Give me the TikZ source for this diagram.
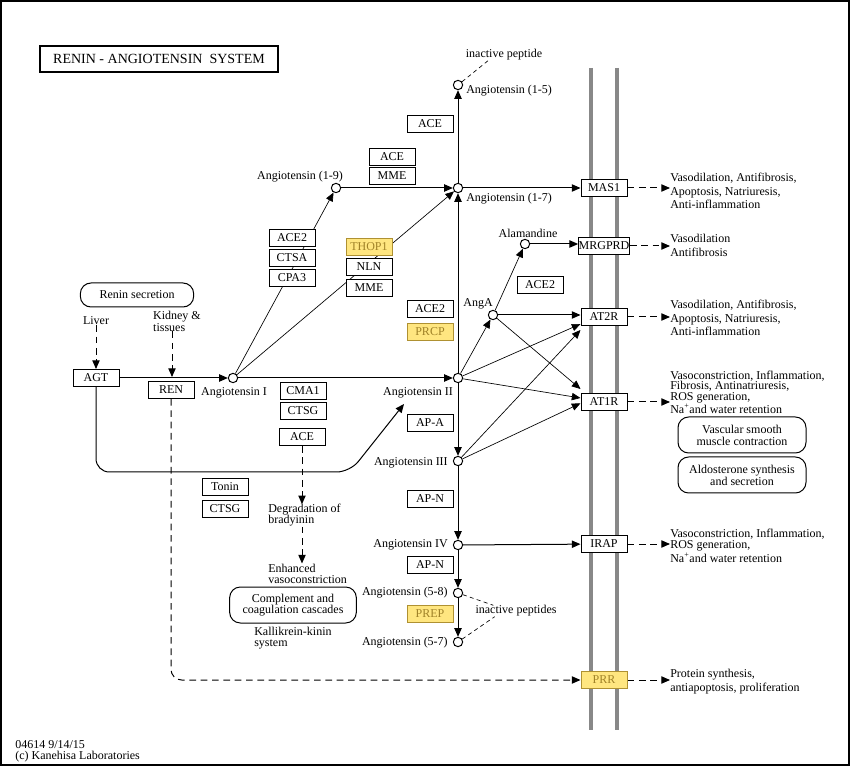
\documentclass[tikz,border=0pt]{standalone}
\usepackage{fontspec}
\setmainfont{Liberation Serif}
\usetikzlibrary{arrows.meta}

\definecolor{membrane}{RGB}{136,136,136}
\definecolor{hlfill}{RGB}{255,230,128}
\definecolor{hltext}{RGB}{160,130,40}
\definecolor{hldraw}{RGB}{175,145,50}

\tikzset{
  gene/.style={draw, fill=white, line width=0.75pt, minimum width=34.5pt, minimum height=12.75pt, inner sep=0pt, font=\fontsize{9}{10}\selectfont},
  genehl/.style={gene, fill=hlfill, draw=hldraw, text=hltext},
  cpd/.style={circle, draw, fill=white, line width=0.75pt, minimum size=7pt, inner sep=0pt},
  lbl/.style={inner sep=0pt, font=\fontsize{9}{10}\selectfont},
  effect/.style={lbl, anchor=west, align=left},
  pill/.style={draw, rounded corners=8pt, line width=0.75pt, inner sep=0pt, align=center, font=\fontsize{9}{9}\selectfont},
  rxn/.style={line width=0.75pt, -{Triangle[length=6.5pt,width=5.5pt]}},
  thinrxn/.style={rxn, line width=0.5pt},
  rel/.style={rxn, dash pattern=on 5pt off 3.5pt},
  note/.style={line width=0.5pt, dash pattern=on 3pt off 2.5pt}
}

\begin{document}
\begin{tikzpicture}[x=0.75pt,y=-0.75pt]
  \useasboundingbox (0,0) rectangle (850,766);
  \draw[line width=1.2pt] (1,1) rectangle (849,765);

  % membrane
  \draw[membrane, line width=3pt] (591,68) -- (591,730);
  \draw[membrane, line width=3pt] (617,68) -- (617,730);

  \node[draw, line width=1.5pt, minimum width=178pt, minimum height=20pt, font=\fontsize{10.5}{12}\selectfont] (title) at (159,59) {RENIN - ANGIOTENSIN\ \ SYSTEM};

  % receptors and precursors
  \node[gene] (MAS1) at (604,188) {MAS1};
  \node[gene] (MRGPRD) at (604,246) {MRGPRD};
  \node[gene] (AT2R) at (604,317) {AT2R};
  \node[gene] (AT1R) at (604,402) {AT1R};
  \node[gene] (IRAP) at (604,544) {IRAP};
  \node[genehl] (PRR) at (604,680) {PRR};
  \node[gene] (AGT) at (96,378) {AGT};
  \node[gene] (REN) at (171,390) {REN};

  % compounds
  \node[cpd] (ang1) at (233,378) {};
  \node[cpd] (ang2) at (458,378) {};
  \node[cpd] (ang19) at (336,188) {};
  \node[cpd] (ang17) at (458,188) {};
  \node[cpd] (ang15) at (458,85) {};
  \node[cpd] (alam) at (525,244) {};
  \node[cpd] (angA) at (493,315) {};
  \node[cpd] (ang3) at (458,461) {};
  \node[cpd] (ang4) at (458,545) {};
  \node[cpd] (ang58) at (458,593) {};
  \node[cpd] (ang57) at (458,642) {};

  \node[lbl] (lang1) at (234,393) {Angiotensin I};
  \node[lbl] (lang2) at (418,393) {Angiotensin II};
  \node[lbl] (lang19) at (300,177) {Angiotensin (1-9)};
  \node[lbl, anchor=west] (lang17) at (466,199) {Angiotensin (1-7)};
  \node[lbl, anchor=west] (lang15) at (466,91) {Angiotensin (1-5)};
  \node[lbl] (lalam) at (528,233) {Alamandine};
  \node[lbl] (langA) at (478,304) {AngA};
  \node[lbl, anchor=east] (lang3) at (448,463) {Angiotensin III};
  \node[lbl, anchor=east] (lang4) at (448,545) {Angiotensin IV};
  \node[lbl, anchor=east] (lang58) at (448,593) {Angiotensin (5-8)};
  \node[lbl, anchor=east] (lang57) at (448,643) {Angiotensin (5-7)};
  \node[lbl] (inpep) at (504,55) {inactive peptide};
  \node[lbl] (inpeps) at (516,611) {inactive peptides};

  % texts
  \node[pill, minimum width=85pt, minimum height=18pt] (reninsec) at (137,295) {Renin secretion};
  \node[lbl] (liver) at (96,321) {Liver};
  \node[lbl, align=left, font=\fontsize{9}{9}\selectfont] (kidney) at (177,321) {Kidney \&\\tissues};
  \coordinate (renact) at (172,377);
  \coordinate (agtend) at (404,404);

  \node[effect] (eMAS1) at (670,191) {Vasodilation, Antifibrosis,\\Apoptosis, Natriuresis,\\Anti-inflammation};
  \node[effect] (eMRGPRD) at (670,245.5) {Vasodilation\\Antifibrosis};
  \node[effect] (eAT2R) at (670,318) {Vasodilation, Antifibrosis,\\Apoptosis, Natriuresis,\\Anti-inflammation};
  \node[effect, font=\fontsize{9}{7.8}\selectfont] (eAT1R) at (670,392.5) {Vasoconstriction, Inflammation,\\Fibrosis, Antinatriuresis,\\ROS generation,\\Na\textsuperscript{+}and water retention};
  \node[effect, font=\fontsize{9}{8.3}\selectfont] (eIRAP) at (670,546) {Vasoconstriction, Inflammation,\\ROS generation,\\Na\textsuperscript{+}and water retention};
  \node[effect] (ePRR) at (670,681.5) {Protein synthesis,\\antiapoptosis, proliferation};

  \node[pill, minimum width=96pt, minimum height=27pt] (vsmc) at (742,435) {Vascular smooth\\muscle contraction};
  \node[pill, minimum width=96pt, minimum height=27pt] (aldo) at (742,475) {Aldosterone synthesis\\and secretion};
  \node[pill, minimum width=95pt, minimum height=27pt, font=\fontsize{9}{8.3}\selectfont] (compl) at (293,605) {Complement and\\coagulation cascades};

  \node[effect, font=\fontsize{9}{8.3}\selectfont] (degr) at (268,515.5) {Degradation of\\bradyinin};
  \node[effect, font=\fontsize{9}{8.3}\selectfont] (enh) at (268,573.5) {Enhanced\\vasoconstriction};
  \node[effect, font=\fontsize{9}{8.3}\selectfont] (kk) at (254,638.5) {Kallikrein-kinin\\system};
  \node[effect, font=\fontsize{9}{8.3}\selectfont] (footer) at (15,751.5) {04614 9/14/15\\(c) Kanehisa Laboratories};

  % reactions
  \draw[rxn] (AGT) -- (ang1);
  \draw[rxn] (ang1) -- (ang2);
  \draw[thinrxn] (ang1) -- (ang19);
  \draw[thinrxn] (ang1) -- (ang17);
  \draw[rxn] (ang19) -- (ang17);
  \draw[rxn] (ang2) -- (ang17);
  \draw[rxn] (ang17) -- (ang15);
  \draw[rxn] (ang17) -- (MAS1);
  \draw[thinrxn] (ang2) -- (angA);
  \draw[thinrxn] (angA) -- (alam);
  \draw[rxn] (alam) -- (alam -| MRGPRD.west);
  \draw[rxn] (angA) -- (angA -| AT2R.west);
  \draw[thinrxn] (angA) -- ([yshift=3pt]AT1R.north west);
  \draw[thinrxn] (ang2) -- ([yshift=1.5pt]AT2R.south west);
  \draw[thinrxn] (ang2) -- ([yshift=3pt]AT1R.west);
  \draw[thinrxn] (ang3) -- ([yshift=-3pt]AT2R.south west);
  \draw[thinrxn] (ang3) -- ([yshift=-1pt]AT1R.west);
  \draw[rxn] (ang2) -- (ang3);
  \draw[rxn] (ang3) -- (ang4);
  \draw[rxn] (ang4) -- (IRAP);
  \draw[rxn] (ang4) -- (ang58);
  \draw[rxn] (ang58) -- (ang57);
  \draw[rxn, rounded corners=10] (AGT.south) |- (350,472) -- (agtend);

  \draw[rel] (liver) -- (AGT);
  \draw[rel] (renact |- kidney.south) -- (renact);
  \draw[rel, rounded corners=8] (REN) |- (PRR);
  \draw[rel] (MAS1) -- (MAS1 -| eMAS1.west);
  \draw[rel] (MRGPRD) -- (MRGPRD -| eMRGPRD.west);
  \draw[rel] (AT2R) -- (AT2R -| eAT2R.west);
  \draw[rel] (AT1R) -- (AT1R -| eAT1R.west);
  \draw[rel] (IRAP) -- (IRAP -| eIRAP.west);
  \draw[rel] (PRR) -- (PRR -| ePRR.west);

  \draw[note] (ang15) -- ([xshift=-12pt]inpep.south);
  \draw[note] (ang58) -- ([xshift=-17pt]inpeps.north);
  \draw[note] (ang57) -- ([xshift=-16pt]inpeps.south);

  % enzymes
  \node[gene] (aceA) at (430,124) {ACE};
  \node[gene] (aceB) at (392,157) {ACE};
  \node[gene] (mmeA) at (392,176) {MME};
  \node[gene] (ace2A) at (292,238) {ACE2};
  \node[gene] (ctsa) at (292,258) {CTSA};
  \node[gene] (cpa3) at (292,278) {CPA3};
  \node[genehl] (thop1) at (369,247) {THOP1};
  \node[gene] (nln) at (369,267) {NLN};
  \node[gene] (mmeB) at (369,288) {MME};
  \node[gene] (ace2B) at (430,309) {ACE2};
  \node[genehl] (prcp) at (430,332) {PRCP};
  \node[gene] (ace2C) at (540,285) {ACE2};
  \node[gene] (cma1) at (303,391) {CMA1};
  \node[gene] (ctsgA) at (303,411) {CTSG};
  \node[gene] (apa) at (430,423) {AP-A};
  \node[gene] (aceC) at (302,437) {ACE};
  \node[gene] (tonin) at (225,487) {Tonin};
  \node[gene] (ctsgB) at (225,509) {CTSG};
  \node[gene] (apnA) at (430,499) {AP-N};
  \node[gene] (apnB) at (430,565) {AP-N};
  \node[genehl] (prep) at (430,614) {PREP};

  \draw[rel] (aceC.south) -- (aceC.south |- degr.north);
  \draw[rel] (aceC.south |- degr.south) -- (aceC.south |- enh.north);
\end{tikzpicture}
\end{document}
